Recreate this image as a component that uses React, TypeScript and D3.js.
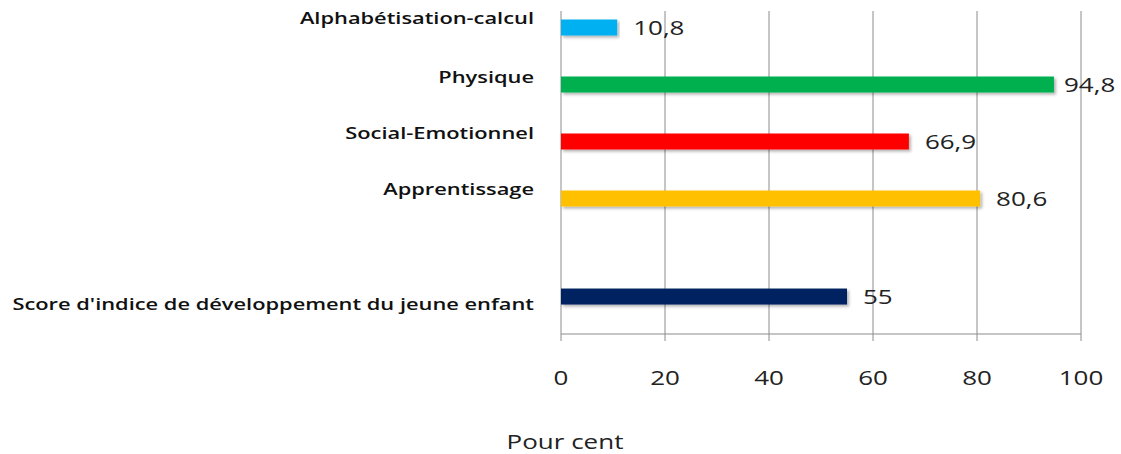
import React from "react";
import * as d3 from "d3";

const categories = [
  "Alphabétisation-calcul",
  "Physique",
  "Social-Emotionnel ",
  "Apprentissage",
  "Score d'indice de développement du jeune enfant",
];
const values = [10.8, 94.8, 66.9, 80.6, 55];
const valueLabels = ["10,8", "94,8", "66,9", "80,6", "55"];
const colors = ["#00B0F0", "#00B050", "#FF0000", "#FFC000", "#002060"];
// slot positions: a gap separates the composite score from the domains
const slots = [0, 1, 2, 3, 4.72];
const labelOffsets = [-10, -8, -9, -10, 7];
const xTicks = [0, 20, 40, 60, 80, 100];
const axisTitle = "Pour cent";

const W = 1121;
const H = 454;
const STRETCH = 1.3;
const font = "Open Sans, sans-serif";

function SText(props: {
  x: number;
  y: number;
  anchor?: "start" | "middle" | "end";
  size: number;
  weight?: number;
  fill?: string;
  children: React.ReactNode;
}) {
  return (
    <g transform={`translate(${props.x},${props.y}) scale(${STRETCH},1)`}>
      <text
        x={0}
        y={0}
        textAnchor={props.anchor || "start"}
        dominantBaseline="central"
        fontFamily={font}
        fontSize={props.size}
        fontWeight={props.weight || 400}
        fill={props.fill || "#222"}
      >
        {props.children}
      </text>
    </g>
  );
}

export default function App() {
  const x = d3.scaleLinear().domain([0, 100]).range([561, 1081]);
  const y = d3.scaleLinear().domain([0, 1]).range([27.5, 84.5]);
  const plotTop = 11;
  const plotBottom = 334;
  const barH = 16;

  return (
    <svg
      width={W}
      height={H}
      style={{ position: "absolute", left: 0, top: 0, background: "#fff" }}
    >
      <defs>
        <filter id="sh" x="-5%" y="-30%" width="110%" height="180%">
          <feDropShadow dx="2" dy="2" stdDeviation="1.5" floodColor="#000" floodOpacity="0.3" />
        </filter>
      </defs>
      {xTicks.map((t) => (
        <line key={"g" + t} x1={x(t)} x2={x(t)} y1={plotTop} y2={plotBottom} stroke="#8c8c8c" strokeWidth={1} />
      ))}
      <line x1={x(0)} x2={x(100)} y1={plotBottom} y2={plotBottom} stroke="#8c8c8c" strokeWidth={1} />
      {xTicks.map((t) => (
        <line key={"t" + t} x1={x(t)} x2={x(t)} y1={plotBottom} y2={plotBottom + 7} stroke="#8c8c8c" strokeWidth={1} />
      ))}
      {xTicks.map((t) => (
        <SText key={"l" + t} x={x(t)} y={377} anchor="middle" size={20}>
          {t}
        </SText>
      ))}
      {values.map((v, i) => {
        const cy = y(slots[i]);
        return (
          <g key={"b" + i}>
            <rect
              x={x(0)}
              y={cy - barH / 2}
              width={x(v) - x(0)}
              height={barH}
              fill={colors[i]}
              filter="url(#sh)"
            />
            <SText x={x(v) + (v > 90 ? 10 : 16)} y={cy} size={20}>
              {valueLabels[i]}
            </SText>
            <SText x={534} y={cy + labelOffsets[i]} anchor="end" size={16.8} weight={600} fill="#111">
              {categories[i]}
            </SText>
          </g>
        );
      })}
      <SText x={565} y={441} anchor="middle" size={20}>
        {axisTitle}
      </SText>
    </svg>
  );
}
